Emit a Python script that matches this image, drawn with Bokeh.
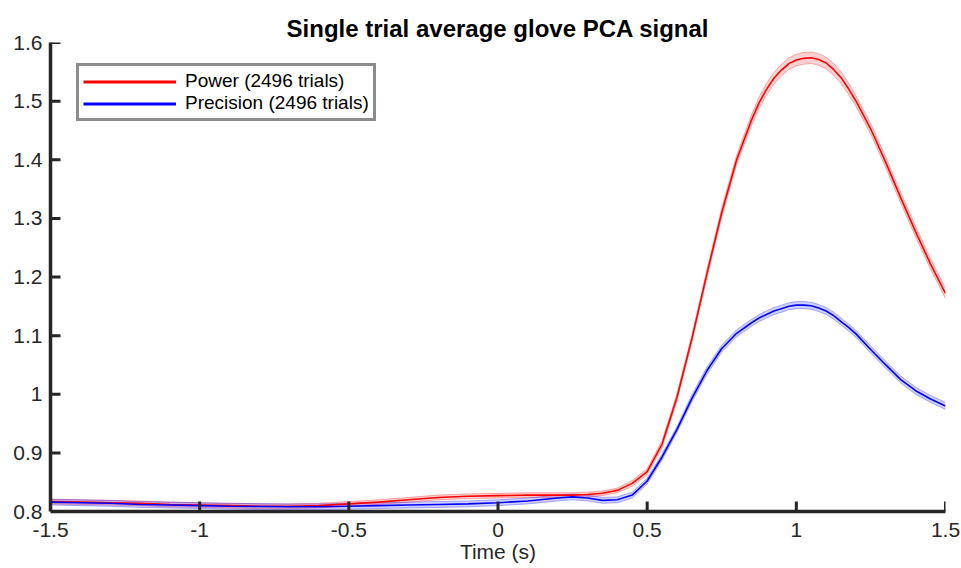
from bokeh.plotting import figure
from bokeh.models import Range1d, FixedTicker, Legend, LegendItem, LinearAxis
from bokeh.embed import file_html
from bokeh.resources import INLINE

time = [-1.5, -1.4, -1.3, -1.2, -1.1, -1.0, -0.9, -0.8, -0.7, -0.6, -0.5, -0.4, -0.3,
        -0.2, -0.1, 0.0, 0.1, 0.2, 0.25, 0.3, 0.35, 0.4, 0.45, 0.5, 0.55, 0.6, 0.65,
        0.7, 0.75, 0.8, 0.85, 0.875, 0.9, 0.925, 0.95, 0.975, 1.0, 1.025, 1.05, 1.075,
        1.1, 1.125, 1.15, 1.175, 1.2, 1.25, 1.3, 1.35, 1.4, 1.45, 1.5]
power = [0.817, 0.816, 0.815, 0.814, 0.812, 0.811, 0.810, 0.809, 0.809, 0.810, 0.813,
         0.816, 0.820, 0.824, 0.826, 0.827, 0.828, 0.828, 0.828, 0.829, 0.831, 0.836,
         0.848, 0.868, 0.915, 0.995, 1.095, 1.205, 1.310, 1.400, 1.468,
         1.497, 1.520, 1.539, 1.553, 1.564, 1.570, 1.573, 1.574, 1.571, 1.565, 1.554,
         1.540, 1.521,
         1.500, 1.452, 1.395, 1.335, 1.277, 1.222, 1.172]
power_sem = ([0.004] * 21
             + [0.004, 0.005, 0.005, 0.006, 0.006, 0.006, 0.007, 0.008, 0.008, 0.009]
             + [0.010] * 13
             + [0.009] * 7)
precision = [0.816, 0.815, 0.814, 0.812, 0.811, 0.810, 0.809, 0.8085, 0.808, 0.808,
             0.809, 0.810, 0.811, 0.812, 0.813, 0.815, 0.818, 0.823, 0.825, 0.823,
             0.819, 0.820, 0.828, 0.852, 0.893, 0.940, 0.993, 1.040, 1.078, 1.104,
             1.122,
             1.130, 1.136, 1.142, 1.146, 1.150, 1.152, 1.152, 1.151, 1.147, 1.142, 1.134,
             1.124, 1.114,
             1.103, 1.076, 1.050, 1.025, 1.006, 0.992, 0.980]
precision_sem = [0.005] * 26 + [0.006] * 25

x_ticks = [-1.5, -1, -0.5, 0, 0.5, 1, 1.5]
x_tick_labels = ["-1.5", "-1", "-0.5", "0", "0.5", "1", "1.5"]
y_ticks = [0.8, 0.9, 1.0, 1.1, 1.2, 1.3, 1.4, 1.5, 1.6]
y_tick_labels = ["0.8", "0.9", "1", "1.1", "1.2", "1.3", "1.4", "1.5", "1.6"]
series_labels = ["Power (2496 trials)", "Precision (2496 trials)"]

X_MIN, X_MAX = -1.5, 1.5
Y_MIN, Y_MAX = 0.8, 1.6
FRAME_W, FRAME_H = 895, 469
TICK_PX = 10

FONT = "Liberation Sans"
AX = "#262626"

p = figure(width=961, height=568, output_backend="svg", toolbar_location=None,
           x_range=Range1d(X_MIN, X_MAX), y_range=Range1d(Y_MIN, Y_MAX),
           min_border_left=50, min_border_right=16, min_border_top=42,
           min_border_bottom=57, x_axis_location=None, y_axis_location=None)
p.outline_line_color = None
p.xgrid.visible = False
p.ygrid.visible = False

p.title.text = "Single trial average glove PCA signal"
p.title.align = "center"
p.title.text_font = FONT
p.title.text_font_size = "24px"
p.title.text_font_style = "bold"
p.title.text_color = "black"
p.title.standoff = 2

xa = LinearAxis(ticker=FixedTicker(ticks=x_ticks), axis_label="Time (s)")
ya = LinearAxis(ticker=FixedTicker(ticks=y_ticks))
xa.major_label_overrides = {t: l for t, l in zip(x_ticks, x_tick_labels)}
ya.major_label_overrides = {t: l for t, l in zip(y_ticks, y_tick_labels)}
for ax in (xa, ya):
    ax.axis_line_color = AX
    ax.axis_line_width = 3.5
    ax.major_tick_line_color = None
    ax.major_tick_in = 0
    ax.major_tick_out = 0
    ax.minor_tick_line_color = None
    ax.major_label_text_font = FONT
    ax.major_label_text_font_size = "21px"
    ax.major_label_text_color = "#262626"
    ax.axis_label_text_font = FONT
    ax.axis_label_text_font_size = "21px"
    ax.axis_label_text_font_style = "normal"
    ax.axis_label_text_color = "#262626"
xa.major_label_standoff = 11
xa.axis_label_standoff = 0
ya.major_label_standoff = 8
p.add_layout(xa, "below")
p.add_layout(ya, "left")

lo_p = [v - s for v, s in zip(power, power_sem)]
hi_p = [v + s for v, s in zip(power, power_sem)]
lo_q = [v - s for v, s in zip(precision, precision_sem)]
hi_q = [v + s for v, s in zip(precision, precision_sem)]

p.varea(x=time, y1=lo_p, y2=hi_p, fill_color="#ff0000", fill_alpha=0.18)
p.line(time, lo_p, line_color="#ff0000", line_alpha=0.3, line_width=1)
p.line(time, hi_p, line_color="#ff0000", line_alpha=0.3, line_width=1)
p.varea(x=time, y1=lo_q, y2=hi_q, fill_color="#0000ff", fill_alpha=0.18)
p.line(time, lo_q, line_color="#0000ff", line_alpha=0.3, line_width=1)
p.line(time, hi_q, line_color="#0000ff", line_alpha=0.3, line_width=1)

p.line(time, power, line_color="#ff0000", line_width=1.6)
p.line(time, precision, line_color="#0000ff", line_width=1.6)

# inward ticks as segments (tick length converted from pixels to data units)
dy = TICK_PX * (Y_MAX - Y_MIN) / FRAME_H
dx = TICK_PX * (X_MAX - X_MIN) / FRAME_W
p.segment(x0=x_ticks, y0=[Y_MIN] * len(x_ticks), x1=x_ticks,
          y1=[Y_MIN + dy] * len(x_ticks), line_color=AX, line_width=3)
p.segment(x0=[X_MIN] * len(y_ticks), y0=y_ticks, x1=[X_MIN + dx] * len(y_ticks),
          y1=y_ticks, line_color=AX, line_width=3)

# legend proxies drawn outside the visible range
leg_r = p.line(x=[X_MIN - 10, X_MIN - 9], y=[Y_MIN, Y_MIN], line_color="#ff0000", line_width=3)
leg_b = p.line(x=[X_MIN - 10, X_MIN - 9], y=[Y_MIN, Y_MIN], line_color="#0000ff", line_width=3)

legend = Legend(items=[LegendItem(label=series_labels[0], renderers=[leg_r]),
                       LegendItem(label=series_labels[1], renderers=[leg_b])],
                location=(26, 390))
legend.border_line_color = "#1a1a1a"
legend.border_line_width = 3
legend.background_fill_color = "white"
legend.background_fill_alpha = 1
legend.label_text_font = FONT
legend.label_text_font_size = "19px"
legend.label_text_color = "black"
legend.padding = 4
legend.spacing = 0
legend.margin = 0
legend.glyph_width = 93
legend.glyph_height = 19
legend.label_height = 19
legend.label_standoff = 9
p.add_layout(legend, "center")

open("out.html", "w").write(file_html(p, INLINE))
